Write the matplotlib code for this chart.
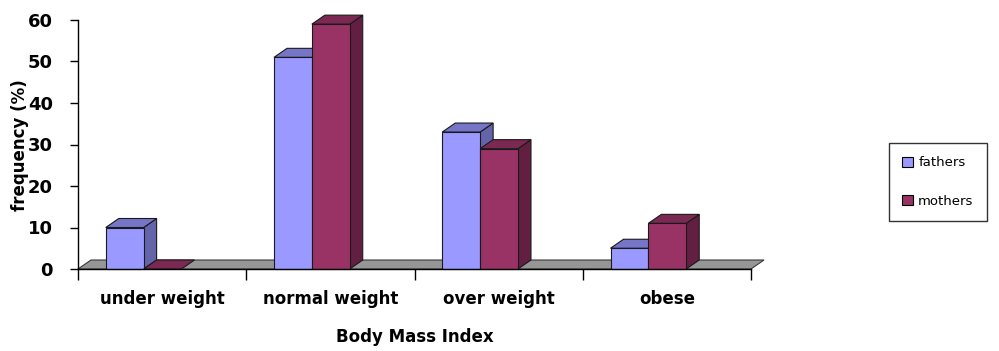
import matplotlib
matplotlib.use("Agg")
import matplotlib.pyplot as plt
from matplotlib.patches import Polygon, Rectangle, Patch

# Data
categories = ["under weight", "normal weight", "over weight", "obese"]
series_names = ["fathers", "mothers"]
fathers = [10, 51, 33, 5]
mothers = [0, 59, 29, 11]
y_ticks = [0, 10, 20, 30, 40, 50, 60]

FRONT = ["#9999FF", "#993366"]
TOP = ["#7676C8", "#7B2853"]
SIDE = ["#6464AA", "#621F42"]

W, H, DPI = 999, 351, 100
fig = plt.figure(figsize=(W / DPI, H / DPI), dpi=DPI)
fig.patch.set_facecolor("white")

ax_left, ax_right, ax_top, ax_bottom = 78, 751, 20, 269
ax = fig.add_axes([ax_left / W, 1 - ax_bottom / H,
                   (ax_right - ax_left) / W, (ax_bottom - ax_top) / H])
ax.set_xlim(0, len(categories))
ax.set_ylim(0, 60)

# 3D depth expressed in pixels, converted to data units
depth_px_x, depth_px_y = 13, 9
dx = depth_px_x / ((ax_right - ax_left) / len(categories))
dy = depth_px_y / ((ax_bottom - ax_top) / 60)

edge = "#1a1a1a"
lw = 0.8

# Floor
n = len(categories)
ax.add_patch(Polygon([(0, 0), (n, 0), (n + dx, dy), (dx, dy)], closed=True,
                     facecolor="#969696", edgecolor="#3a3a3a", lw=lw,
                     clip_on=False, zorder=1))

bar_w = 0.225
offsets = [0.165, 0.165 + bar_w]


def bar3d(x0, v, k):
    x1 = x0 + bar_w
    if v > 0:
        ax.add_patch(Polygon([(x1, 0), (x1 + dx, dy), (x1 + dx, v + dy), (x1, v)],
                             closed=True, facecolor=SIDE[k], edgecolor=edge,
                             lw=lw, clip_on=False, zorder=2))
    ax.add_patch(Polygon([(x0, v), (x1, v), (x1 + dx, v + dy), (x0 + dx, v + dy)],
                         closed=True, facecolor=TOP[k], edgecolor=edge,
                         lw=lw, clip_on=False, zorder=2))
    if v > 0:
        ax.add_patch(Rectangle((x0, 0), bar_w, v, facecolor=FRONT[k],
                               edgecolor=edge, lw=lw, clip_on=False, zorder=2))


for i in range(n):
    for k, vals in enumerate([fathers, mothers]):
        bar3d(i + offsets[k], vals[i], k)

# Axes styling
for s in ["top", "right"]:
    ax.spines[s].set_visible(False)
for s in ["left", "bottom"]:
    ax.spines[s].set_color("black")
    ax.spines[s].set_linewidth(1.0)
    ax.spines[s].set_zorder(3)

bold_font = ["DejaVu Sans"]

ax.set_yticks(y_ticks)
ax.set_yticklabels([str(t) for t in y_ticks], fontweight="bold", fontsize=13,
                   family=bold_font)
ax.tick_params(axis="y", direction="out", length=6, width=1, pad=12)

ax.set_xticks(range(n + 1))
ax.set_xticklabels([])
ax.set_xticks([i + 0.5 for i in range(n)], minor=True)
ax.set_xticklabels(categories, minor=True, fontweight="bold", fontsize=12,
                   family=bold_font)
ax.tick_params(axis="x", which="major", direction="out", length=8, width=1)
ax.tick_params(axis="x", which="minor", length=0, pad=15)

fig.text(20 / W, 1 - 145 / H, "frequency (%)", rotation=90, ha="center",
         va="center", fontweight="bold", fontsize=12, family=bold_font)
fig.text(415 / W, 1 - 337 / H, "Body Mass Index", ha="center", va="center",
         fontweight="bold", fontsize=12, family=bold_font)

handles = [Patch(facecolor=FRONT[k], edgecolor="black", lw=0.8)
           for k in range(2)]
leg = fig.legend(handles, series_names, loc="center",
                 bbox_to_anchor=(938 / W, 1 - 182 / H),
                 frameon=True, fancybox=False, edgecolor="black",
                 fontsize=9.5, handlelength=0.8, handleheight=0.8,
                 handletextpad=0.4, labelspacing=1.9, borderpad=1.0,
                 borderaxespad=0)
leg.get_frame().set_linewidth(1.0)

fig.savefig("out.png", dpi=DPI, facecolor="white")
